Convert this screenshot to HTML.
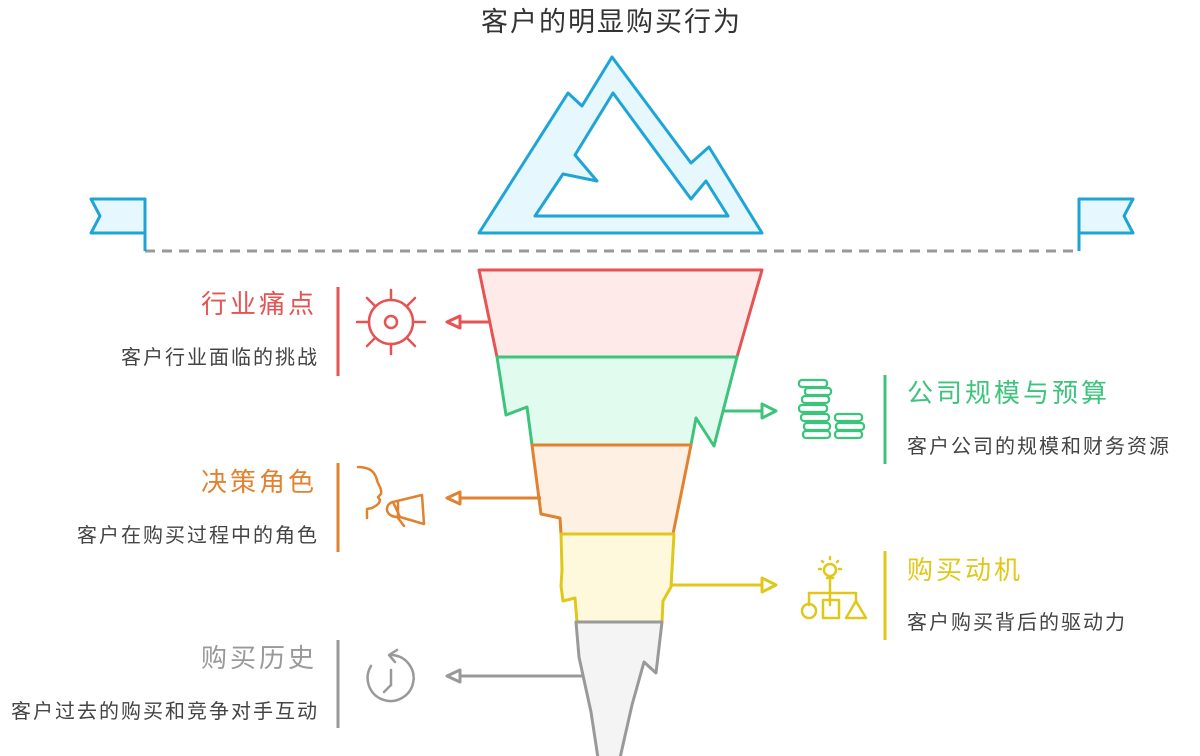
<!DOCTYPE html>
<html><head><meta charset="utf-8"><style>
html,body{margin:0;padding:0;background:#fff;}
svg{display:block;}
text{font-family:"Liberation Sans","Noto Sans CJK SC",sans-serif;}
.t{font-size:26px;letter-spacing:3px;}
.s{font-size:20px;letter-spacing:2px;fill:#444;}
</style></head><body>
<svg width="1200" height="756" viewBox="0 0 1200 756" xmlns="http://www.w3.org/2000/svg">
<text x="481" y="31" font-size="27" letter-spacing="2" fill="#333">客户的明显购买行为</text>
<path d="M479,233 L568,93 L582,106 L612,57 L691,163 L709,147 L762,233 Z M613,93 L575,155 L597,181 L563,174 L535,216 L728,216 L706,181 L691,199 Z" fill="#e6f7fd" fill-rule="evenodd" stroke="#1ea5d6" stroke-width="3" stroke-linejoin="round"/>
<line x1="145" y1="251" x2="1080" y2="251" stroke="#999" stroke-width="3" stroke-dasharray="10,7"/>
<path d="M145,251 L145,199 L91,199 L100,216 L91,233 L145,233" fill="#e6f7fd" stroke="#1ea5d6" stroke-width="3" stroke-linejoin="round"/>
<path d="M1079,251 L1079,199 L1133,199 L1124,216 L1133,233 L1079,233" fill="#e6f7fd" stroke="#1ea5d6" stroke-width="3" stroke-linejoin="round"/>
<g stroke-width="3" stroke-linejoin="round">
<path d="M479,270 L762,270 L737,357 L497,357 Z" fill="#ffeaea" stroke="#e55353"/>
<path d="M497,357 L737,357 L714,446 L696,418 L691,445 L532,445 L527,407 L506,415 Z" fill="#e1fcef" stroke="#3cc47c"/>
<path d="M532,445 L691,445 L673,534 L561,534 L560,518 L541,514 Z" fill="#fff0e4" stroke="#e0822f"/>
<path d="M561,534 L674,534 L671,587 L663,601 L662,622 L577,622 L575,598 L563,601 L561,586 L562,570 Z" fill="#fef9dc" stroke="#e0c81a"/>
<path d="M576,622 L662,622 L656,673 L644,662 L632,705 L620,758 L598,758 L591,712 L579,657 Z" fill="#f4f4f4" stroke="#999"/>
</g>
<g stroke-width="3" fill="#fff" stroke-linejoin="round">
<line x1="490" y1="322" x2="458" y2="322" stroke="#e55353"/>
<path d="M460,316 L447,322 L460,328 Z" stroke="#e55353"/>
<line x1="541" y1="498" x2="458" y2="498" stroke="#e0822f"/>
<path d="M460,492 L447,498 L460,504 Z" stroke="#e0822f"/>
<line x1="582" y1="676" x2="458" y2="676" stroke="#999"/>
<path d="M460,670 L447,676 L460,682 Z" stroke="#999"/>
<line x1="723" y1="411" x2="763" y2="411" stroke="#3cc47c"/>
<path d="M762,404 L776,411 L762,418 Z" stroke="#3cc47c"/>
<line x1="671" y1="585" x2="763" y2="585" stroke="#e0c81a"/>
<path d="M762,578 L776,585 L762,592 Z" stroke="#e0c81a"/>
</g>
<line x1="338" y1="287" x2="338" y2="376" stroke="#e55353" stroke-width="3"/>
<text x="317" y="313" class="t" fill="#e55353" text-anchor="end">行业痛点</text>
<text x="319" y="364" class="s" text-anchor="end">客户行业面临的挑战</text>
<line x1="338" y1="463" x2="338" y2="552" stroke="#e0822f" stroke-width="3"/>
<text x="317" y="491" class="t" fill="#e0822f" text-anchor="end">决策角色</text>
<text x="319" y="542" class="s" text-anchor="end">客户在购买过程中的角色</text>
<line x1="338" y1="640" x2="338" y2="728" stroke="#999" stroke-width="3"/>
<text x="317" y="667" class="t" fill="#999" text-anchor="end">购买历史</text>
<text x="319" y="718" class="s" text-anchor="end">客户过去的购买和竞争对手互动</text>
<line x1="885" y1="375" x2="885" y2="464" stroke="#3cc47c" stroke-width="3"/>
<text x="907" y="402" class="t" fill="#3cc47c">公司规模与预算</text>
<text x="907" y="453" class="s">客户公司的规模和财务资源</text>
<line x1="885" y1="551" x2="885" y2="640" stroke="#e0c81a" stroke-width="3"/>
<text x="907" y="579" class="t" fill="#e0c81a">购买动机</text>
<text x="907" y="629" class="s">客户购买背后的驱动力</text>
<g fill="none" stroke-width="2.5" stroke-linecap="round" stroke-linejoin="round">
<g stroke="#e55353">
<circle cx="391" cy="322" r="22"/><circle cx="391" cy="322" r="6"/>
<line x1="391" y1="290" x2="391" y2="300"/><line x1="391" y1="344" x2="391" y2="354"/>
<line x1="357" y1="322" x2="369" y2="322"/><line x1="413" y1="322" x2="425" y2="322"/>
<line x1="367" y1="298" x2="375" y2="306"/><line x1="407" y1="338" x2="415" y2="346"/>
<line x1="415" y1="298" x2="407" y2="306"/><line x1="375" y1="338" x2="367" y2="346"/>
</g>
<g stroke="#e0822f">
<path d="M358,467 C370,467 375,472 377,480 C378,485 382,488 381,494 L378,497 L380,500 C379,505 375,506 372,508 L367,509 L367,512 L367,518"/>
<path d="M393,502 L422,495 L424,524 L400,517 Z"/>
<path d="M393,502 C384,504 384,518 400,517 M398,503 L398,518 L404,526"/>
</g>
<g stroke="#999">
<path d="M391,655 A23,23 0 1 1 371,666"/>
<path d="M397,650 L389,655 L395,662"/>
<line x1="391" y1="670" x2="391" y2="685"/><line x1="391" y1="685" x2="384" y2="692"/>
</g>
<g stroke="#3cc47c" stroke-width="2.3">
<rect x="799" y="380" width="28" height="7" rx="3"/>
<rect x="805" y="388" width="26" height="7" rx="3"/>
<rect x="802" y="396" width="27" height="7" rx="3"/>
<rect x="799" y="405" width="28" height="7" rx="3"/>
<rect x="801" y="414" width="28" height="7" rx="3"/>
<rect x="804" y="423" width="26" height="7" rx="3"/>
<rect x="835" y="414" width="27" height="7" rx="3"/>
<rect x="836" y="423" width="28" height="7" rx="3"/>
<rect x="835" y="431" width="27" height="7" rx="3"/>
<rect x="803" y="431" width="27" height="7" rx="3"/>
</g>
<g stroke="#e0c81a">
<circle cx="830" cy="570" r="6"/><line x1="827" y1="578" x2="833" y2="578"/>
<line x1="830" y1="557" x2="830" y2="559"/><line x1="819" y1="569" x2="821" y2="569"/><line x1="839" y1="569" x2="841" y2="569"/>
<line x1="822" y1="561" x2="823" y2="562"/><line x1="838" y1="561" x2="837" y2="562"/>
<path d="M830,580 L830,593 M809,605 L809,593 L856,593 L856,603 M830,593 L830,605"/>
<circle cx="809" cy="611" r="7"/>
<rect x="823" y="600" width="16" height="18"/>
<path d="M846,618 L856,601 L866,618 Z"/>
</g>
</g>
</svg>
</body></html>
